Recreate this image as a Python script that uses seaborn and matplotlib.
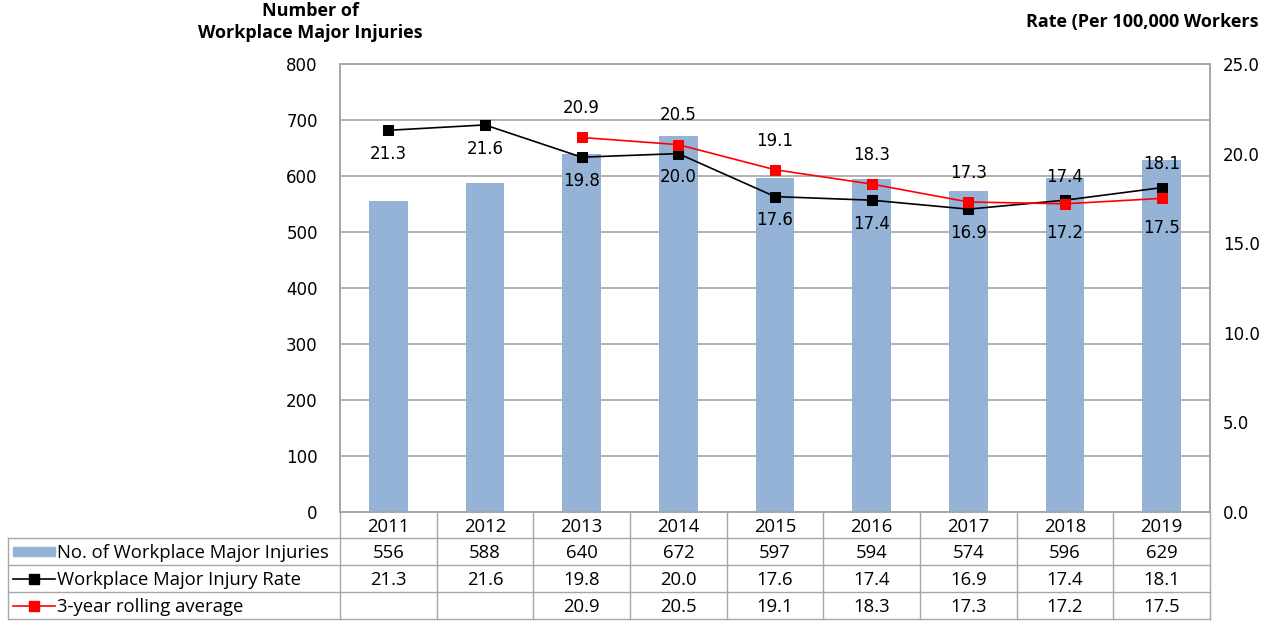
import matplotlib
matplotlib.use('Agg')
import matplotlib.pyplot as plt
import matplotlib.transforms as mtransforms
from matplotlib.lines import Line2D
from matplotlib.patches import Rectangle
import numpy as np
import seaborn as sns

years = ['2011', '2012', '2013', '2014', '2015', '2016', '2017', '2018', '2019']
injuries = [556, 588, 640, 672, 597, 594, 574, 596, 629]
rate = [21.3, 21.6, 19.8, 20.0, 17.6, 17.4, 16.9, 17.4, 18.1]
rolling = [np.nan, np.nan, 20.9, 20.5, 19.1, 18.3, 17.3, 17.2, 17.5]
row_labels = ['No. of Workplace Major Injuries', 'Workplace Major Injury Rate',
              '3-year rolling average']
# label above (+1) or below (-1) the marker
rate_side = [-1, -1, -1, -1, -1, -1, -1, 1, 1]
rolling_side = [1, 1, 1, 1, 1, 1, 1, -1, -1]

bar_color = '#95B3D7'
grid_color = '#A6A6A6'
num_font = 'DejaVu Sans'
txt_font = 'Open Sans'
fs_num = 12
fs_tab = 13.3

W, H = 1276, 621
fig = plt.figure(figsize=(W / 100, H / 100), dpi=100)


def fy(py):
    return 1 - py / H


def fx(px):
    return px / W


ax = fig.add_axes([fx(340), fy(512), fx(1210) - fx(340), fy(64) - fy(512)])
x = np.arange(len(years))

sns.barplot(x=x, y=injuries, ax=ax, color=bar_color, width=0.4, saturation=1,
            zorder=2)
ax.set_xlim(-0.5, len(years) - 0.5)
ax.set_ylim(0, 800)
ax.set_yticks(range(0, 801, 100))
ax.set_yticklabels([str(v) for v in range(0, 801, 100)], fontsize=fs_num,
                   family=num_font)
ax.set_xticks([])
ax.set_xlabel('')
ax.yaxis.grid(True, color=grid_color, lw=1.2, zorder=0)
ax.set_axisbelow(True)
ax.tick_params(axis='y', length=0, pad=16)
for s in ax.spines.values():
    s.set_color(grid_color)
    s.set_linewidth(1.2)

ax2 = ax.twinx()
sns.lineplot(x=x, y=rate, ax=ax2, color='black', lw=1.2, marker='s',
             markersize=7.5, markeredgecolor='black')
sns.lineplot(x=x, y=rolling, ax=ax2, color='red', lw=1.2, marker='s',
             markersize=7.5, markeredgecolor='red')
ax2.set_ylim(0, 25)
ax2.set_yticks(np.arange(0, 26, 5))
ax2.set_yticklabels([f'{v:.1f}' for v in np.arange(0, 26, 5)], fontsize=fs_num,
                    family=num_font)
ax2.tick_params(axis='y', length=0, pad=9.5)
ax2.set_ylabel('')
for s in ax2.spines.values():
    s.set_color(grid_color)
    s.set_linewidth(1.2)

for xi, v, sd in zip(x, rate, rate_side):
    ax2.annotate(f'{v:.1f}', (xi, v), xytext=(0, 17 * sd), textcoords='offset points',
                 ha='center', va='center', fontsize=fs_num, family=num_font)
for xi, v, sd in zip(x, rolling, rolling_side):
    if np.isnan(v):
        continue
    ax2.annotate(f'{v:.1f}', (xi, v), xytext=(0, 21 * sd), textcoords='offset points',
                 ha='center', va='center', fontsize=fs_num, family=num_font)

# axis titles
fig.text(fx(310), fy(22), 'Number of\nWorkplace Major Injuries', ha='center',
         va='center', fontsize=13, fontweight='bold', family=txt_font,
         linespacing=1.32)
fig.text(fx(1258), fy(22), 'Rate (Per 100,000 Workers', ha='right', va='center',
         fontsize=13, fontweight='bold', family=txt_font)

# data table
tr = mtransforms.blended_transform_factory(ax.transData, fig.transFigure)
rows_y = [512, 538, 565, 592, 619]
lw = 1.0
for i in range(len(years) + 1):
    fig.add_artist(Line2D([i - 0.5, i - 0.5], [fy(512), fy(619)], transform=tr,
                          color=grid_color, lw=lw))
for py in rows_y[1:]:
    fig.add_artist(Line2D([fx(8), fx(1210)], [fy(py), fy(py)],
                          transform=fig.transFigure, color=grid_color, lw=lw))
fig.add_artist(Line2D([fx(8), fx(8)], [fy(538), fy(619)],
                      transform=fig.transFigure, color=grid_color, lw=lw))

for xi, yr in zip(x, years):
    fig.text(xi, fy((rows_y[0] + rows_y[1]) / 2 + 1.5), yr, transform=tr,
             ha='center', va='center', fontsize=fs_tab, family=txt_font)
table_rows = [[str(v) for v in injuries],
              [f'{v:.1f}' for v in rate],
              ['' if np.isnan(v) else f'{v:.1f}' for v in rolling]]
for r, vals in enumerate(table_rows):
    yc = fy((rows_y[r + 1] + rows_y[r + 2]) / 2 + 1.5)
    for xi, t in zip(x, vals):
        fig.text(xi, yc, t, transform=tr, ha='center', va='center', fontsize=fs_tab,
                 family=txt_font)
    fig.text(fx(57), yc, row_labels[r], ha='left', va='center', fontsize=fs_tab,
             family=txt_font)

# legend keys
yc = fy(551)
fig.add_artist(Rectangle((fx(13), yc - 4.5 / H), fx(42), 9 / H,
                         transform=fig.transFigure, color=bar_color))
for r, c in [(1, 'black'), (2, 'red')]:
    yc = fy((rows_y[r + 1] + rows_y[r + 2]) / 2)
    fig.add_artist(Line2D([fx(13), fx(55)], [yc, yc], transform=fig.transFigure,
                          color=c, lw=1.2))
    fig.add_artist(Line2D([fx(34)], [yc], transform=fig.transFigure, color=c,
                          marker='s', markersize=7))

fig.savefig('out.png', dpi=100)
